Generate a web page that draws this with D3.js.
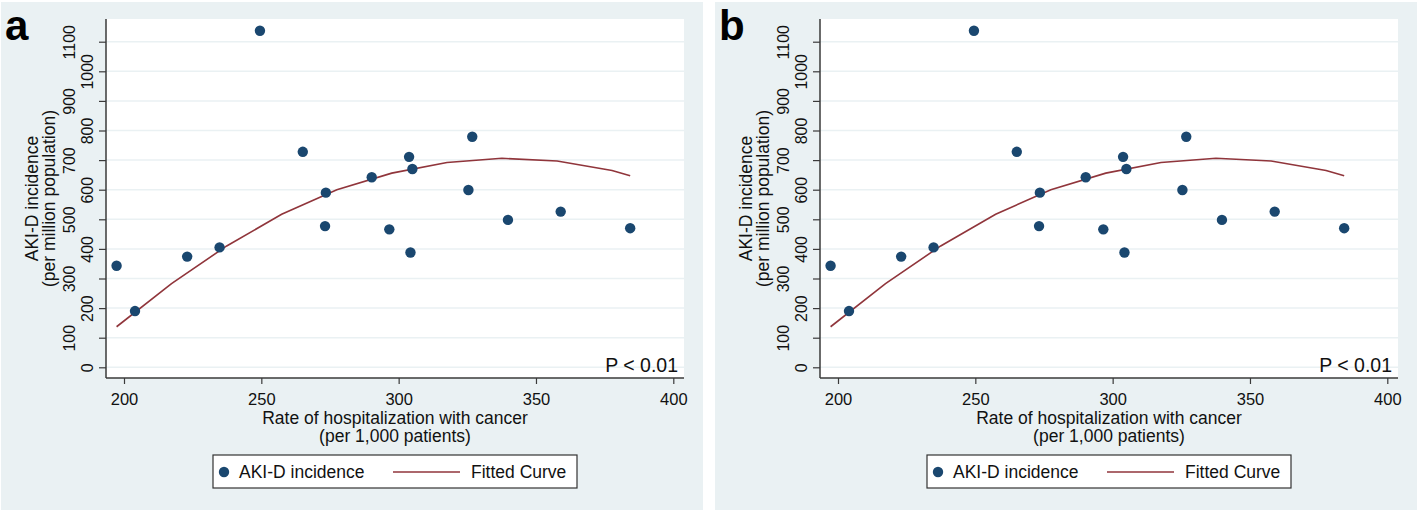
<!DOCTYPE html>
<html lang="en">
<head>
  <meta charset="UTF-8">
  <title>AKI-D incidence vs hospitalization with cancer</title>
  <style>
    body { margin: 0; background: #fff; }
    svg { display: block; font-family: "Liberation Sans", Arial, sans-serif; }
  </style>
</head>
<body>
  <svg id="chart" width="1418" height="513"></svg>

  <script src="https://d3js.org/d3.v7.min.js"></script>
  <script>
    // scatter: rate of hospitalization with cancer vs AKI-D incidence
    const hospRate = [197.3, 204.0, 223.0, 234.8, 249.5, 265.1, 273.2, 273.5, 290.2,
                      296.6, 303.8, 304.3, 305.0, 325.4, 326.8, 339.8, 359.0, 384.3];
    const akiIncidence = [343, 190, 374, 405, 1137, 728, 477, 590, 642,
                          466, 711, 388, 670, 599, 779, 498, 526, 470];

    // fitted curve, read at its vertices
    const fitX = [197.3, 217.3, 237.4, 257.4, 277.5, 297.5, 317.6, 337.6, 357.7, 377.7, 384.3];
    const fitY = [137, 283, 410, 517, 600, 656, 692, 706, 697, 665, 647];

    const xTicks = [200, 250, 300, 350, 400];
    const yTicks = [0, 100, 200, 300, 400, 500, 600, 700, 800, 900, 1000, 1100];
    const panelLabels = ["a", "b"];

    const bg = "#eaf1f3";
    const dotColor = "#1a476f";
    const lineColor = "#90353b";
    const axisColor = "#3a3a3a";

    const svg = d3.select("#chart");

    const x = d3.scaleLinear().domain([200, 400]).range([124, 673.3]);
    const y = d3.scaleLinear().domain([0, 1100]).range([367.3, 41.7]);
    const plot = { left: 106, right: 684, top: 19, bottom: 378 };

    const points = hospRate.map((d, i) => ({ x: d, y: akiIncidence[i] }));
    const fit = fitX.map((d, i) => ({ x: d, y: fitY[i] }));

    const line = d3.line().x(d => x(d.x)).y(d => y(d.y));

    panelLabels.forEach((label, p) => {
      const g = svg.append("g").attr("transform", `translate(${p * 714},0)`);

      g.append("rect")
        .attr("x", 1).attr("y", 2)
        .attr("width", 702).attr("height", 508)
        .attr("fill", bg);

      g.append("rect")
        .attr("x", plot.left).attr("y", plot.top)
        .attr("width", plot.right - plot.left).attr("height", plot.bottom - plot.top)
        .attr("fill", "#fff");

      // grid
      g.append("g").selectAll("line")
        .data(yTicks)
        .join("line")
        .attr("x1", plot.left).attr("x2", plot.right)
        .attr("y1", d => y(d)).attr("y2", d => y(d))
        .attr("stroke", bg).attr("stroke-width", 1.5);

      // y axis, labels staggered in two columns
      const yAxis = g.append("g")
        .attr("transform", `translate(${plot.left},0)`)
        .call(d3.axisLeft(y).tickValues(yTicks).tickSize(7).tickSizeOuter(0).tickFormat(d3.format("d")));
      yAxis.select(".domain").attr("d", `M0,${plot.top}V${plot.bottom}`)
        .attr("stroke", axisColor).attr("stroke-width", 1.5);
      yAxis.selectAll(".tick line").attr("stroke", axisColor).attr("stroke-width", 1.2);
      yAxis.selectAll(".tick text")
        .attr("x", null).attr("dy", null)
        .attr("transform", (d, i) => `translate(${i % 2 === 0 ? -13.5 : -31},0) rotate(-90)`)
        .attr("text-anchor", "middle")
        .attr("font-size", "16px")
        .attr("fill", "#111");

      // x axis
      const xAxis = g.append("g")
        .attr("transform", `translate(0,${plot.bottom})`)
        .call(d3.axisBottom(x).tickValues(xTicks).tickSize(6).tickSizeOuter(0));
      xAxis.select(".domain").attr("d", `M${plot.left},0H${plot.right}`)
        .attr("stroke", axisColor).attr("stroke-width", 1.5);
      xAxis.selectAll(".tick line").attr("stroke", axisColor).attr("stroke-width", 1.2);
      xAxis.selectAll(".tick text")
        .attr("y", 27).attr("dy", null)
        .attr("font-size", "16.5px")
        .attr("fill", "#111");

      // axis titles
      const cx = (plot.left + plot.right) / 2;
      const cy = (plot.top + plot.bottom) / 2;
      g.append("text")
        .attr("x", cx).attr("y", 423.5)
        .attr("text-anchor", "middle").attr("font-size", "17.5px").attr("fill", "#111")
        .text("Rate of hospitalization with cancer");
      g.append("text")
        .attr("x", cx).attr("y", 441.5)
        .attr("text-anchor", "middle").attr("font-size", "17.5px").attr("fill", "#111")
        .text("(per 1,000 patients)");

      g.append("text")
        .attr("transform", `translate(37.5,${cy}) rotate(-90)`)
        .attr("text-anchor", "middle").attr("font-size", "17.5px").attr("fill", "#111")
        .text("AKI-D incidence");
      g.append("text")
        .attr("transform", `translate(55,${cy}) rotate(-90)`)
        .attr("text-anchor", "middle").attr("font-size", "17.5px").attr("fill", "#111")
        .text("(per million population)");

      // fitted curve
      g.append("path")
        .datum(fit)
        .attr("d", line)
        .attr("fill", "none")
        .attr("stroke", lineColor)
        .attr("stroke-width", 1.6);

      // points
      g.append("g").selectAll("circle")
        .data(points)
        .join("circle")
        .attr("cx", d => x(d.x))
        .attr("cy", d => y(d.y))
        .attr("r", 5.2)
        .attr("fill", dotColor);

      g.append("text")
        .attr("x", 678).attr("y", 372)
        .attr("text-anchor", "end").attr("font-size", "19.5px").attr("fill", "#111")
        .text("P < 0.01");

      // panel letter
      g.append("text")
        .attr("x", 5).attr("y", 40)
        .attr("font-size", "42px").attr("font-weight", "bold").attr("fill", "#000")
        .text(label);

      // legend
      const lg = g.append("g");
      lg.append("rect")
        .attr("x", 213).attr("y", 455)
        .attr("width", 364).attr("height", 33)
        .attr("fill", "#fff").attr("stroke", "#333").attr("stroke-width", 1.2);
      lg.append("circle")
        .attr("cx", 224).attr("cy", 472).attr("r", 5.2).attr("fill", dotColor);
      lg.append("text")
        .attr("x", 239).attr("y", 478)
        .attr("font-size", "17.5px").attr("fill", "#111")
        .text("AKI-D incidence");
      lg.append("line")
        .attr("x1", 393).attr("x2", 460).attr("y1", 472).attr("y2", 472)
        .attr("stroke", lineColor).attr("stroke-width", 1.6);
      lg.append("text")
        .attr("x", 471).attr("y", 478)
        .attr("font-size", "17.5px").attr("fill", "#111")
        .text("Fitted Curve");
    });
  </script>
</body>
</html>
